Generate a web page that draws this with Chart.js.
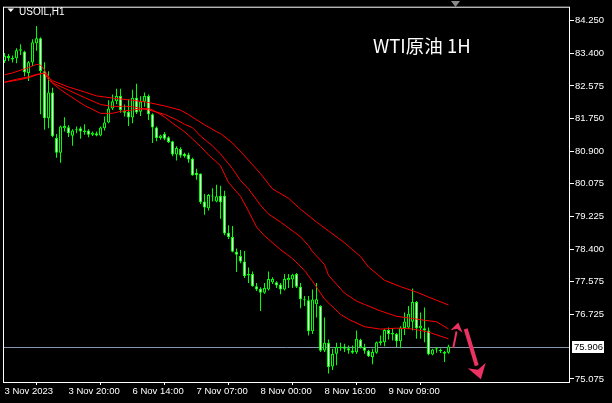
<!DOCTYPE html>
<html><head><meta charset="utf-8">
<script src="https://cdn.jsdelivr.net/npm/chart.js@4.4.1/dist/chart.umd.min.js"></script>
<style>html,body{margin:0;padding:0;background:#000;overflow:hidden}#wrap{width:612px;height:403px;position:relative;background:#000}</style>
</head><body><div id="wrap"><canvas id="c"></canvas></div>
<script>
const symbolTitle = 'USOIL,H1';
const chartNote = 'WTI原油 1H';
const xTickLabels = ['3 Nov 2023','3 Nov 20:00','6 Nov 14:00','7 Nov 07:00','8 Nov 00:00','8 Nov 16:00','9 Nov 09:00'];
const barsPerLabel = 16;
const yTickValues = [84.250,83.400,82.575,81.750,80.900,80.075,79.225,78.400,77.575,76.725,75.075];
const currentPrice = 75.906;
const shiftMarkerBar = 112.75;

const opens = [83.214,83.340,83.290,83.282,83.474,83.459,82.910,83.176,83.669,83.795,
82.953,81.748,82.405,81.242,80.863,81.495,81.520,81.300,81.470,81.495,
81.394,81.437,81.325,81.368,81.310,81.495,81.639,82.000,82.185,82.321,
81.932,81.917,81.765,82.271,81.917,82.170,82.321,81.849,81.512,81.242,
81.343,81.260,81.159,80.820,80.964,80.838,80.820,80.711,80.357,80.332,
79.617,79.447,79.768,79.617,79.768,79.768,78.815,78.707,78.335,78.226,
78.082,77.771,77.761,77.450,77.382,77.281,77.367,77.551,77.551,77.493,
77.367,77.602,77.620,77.761,77.433,77.114,77.089,76.300,76.988,76.945,
75.807,76.002,75.395,75.724,75.865,75.908,75.865,75.807,75.757,76.078,
75.896,75.795,75.638,75.749,75.992,76.017,76.331,76.255,76.229,76.042,
76.381,76.396,76.540,77.046,76.371,76.371,76.313,75.699,75.833,75.820,
75.764,75.744];
const highs = [83.416,83.391,83.353,83.542,83.643,83.474,83.214,83.770,84.111,83.820,
83.181,82.953,82.531,81.343,81.563,81.773,81.571,81.470,81.538,81.538,
81.596,81.470,81.411,81.411,81.538,81.791,82.210,82.354,82.506,82.506,
82.101,82.228,82.481,82.632,82.311,82.405,82.354,81.874,81.538,81.325,
81.394,81.285,81.174,81.032,81.007,80.863,80.863,80.736,80.458,80.332,
79.809,79.809,79.960,80.046,80.021,79.895,79.010,78.992,78.418,78.378,
78.353,77.931,77.829,77.534,77.425,77.534,77.829,77.678,77.577,77.534,
77.761,77.761,77.771,77.787,77.534,77.198,77.198,77.367,77.534,76.962,
76.649,76.085,75.850,76.002,76.002,75.977,75.934,75.934,76.313,76.103,
75.977,75.825,75.850,76.035,76.186,76.356,76.396,76.371,76.255,76.422,
76.775,76.945,77.392,77.071,76.775,76.902,76.396,75.850,75.891,75.858,
75.790,75.951];
const lows = [83.163,83.214,83.176,83.156,83.365,82.822,82.701,83.087,83.474,81.849,
81.452,81.495,81.260,80.736,80.610,81.411,81.267,81.047,81.368,81.224,
81.325,81.260,81.293,81.285,81.285,81.437,81.621,81.957,82.109,81.892,
81.791,81.553,81.621,81.856,81.806,82.043,81.705,81.116,81.159,81.199,
81.184,81.116,80.779,80.668,80.736,80.736,80.610,80.274,80.173,79.556,
79.278,79.389,79.617,79.599,79.177,78.757,78.656,78.317,77.812,78.039,
77.660,77.534,77.433,77.324,76.818,77.256,77.342,77.508,77.407,77.241,
77.342,77.407,77.407,77.407,76.887,76.945,76.186,76.229,76.649,75.764,
75.764,75.218,75.302,75.428,75.795,75.764,75.724,75.724,75.724,75.858,
75.724,75.638,75.453,75.724,75.934,75.916,76.085,76.060,75.891,75.865,
76.204,76.356,76.313,76.103,76.103,76.017,75.681,75.681,75.749,75.739,
75.511,75.724];
const closes = [83.340,83.290,83.252,83.492,83.517,82.928,83.181,83.694,83.795,82.961,
81.748,82.405,81.285,80.863,81.538,81.553,81.368,81.437,81.444,81.411,
81.437,81.325,81.386,81.310,81.512,81.639,82.000,82.185,82.321,81.957,
81.892,81.765,82.271,81.899,82.170,82.321,81.849,81.512,81.242,81.310,
81.224,81.141,80.820,80.989,80.795,80.779,80.693,80.289,80.289,79.599,
79.465,79.783,79.743,79.751,79.599,78.798,78.707,78.335,78.252,78.082,
77.703,77.721,77.450,77.367,77.281,77.407,77.635,77.635,77.468,77.367,
77.635,77.660,77.746,77.433,77.114,77.089,76.300,77.109,77.114,75.795,
76.002,75.385,75.714,75.896,75.891,75.850,75.807,75.744,76.103,75.891,
75.800,75.656,75.764,76.017,76.042,76.331,76.229,76.212,76.042,76.396,
76.548,76.743,77.046,76.371,76.439,76.313,75.706,75.833,75.865,75.782,
75.724,75.906];

const maFastBars = [0,2,5,7,8,9,10,12,14,16,20,24,27,29,32,36,37,40,42,45,47,49,51,54,56,59,61,63,65,67,69,72,75,77,80,84,86,90,94,98,102,106,111];
const maFastValues = [82.860,82.910,83.011,83.087,83.125,83.113,82.986,82.645,82.481,82.342,82.076,81.874,81.874,81.925,81.962,82.000,81.962,81.785,81.621,81.406,81.217,81.027,80.812,80.534,80.105,79.751,79.371,78.967,78.739,78.562,78.386,78.158,77.855,77.577,77.122,76.730,76.604,76.414,76.351,76.376,76.356,76.275,76.103];
const maMidBars = [0,3,6,8,10,11,12,16,20,24,27,30,32,36,40,43,45,47,49,52,54,57,59,61,64,66,69,71,74,76,77,80,81,83,85,88,90,94,98,102,105,108,111];
const maMidValues = [82.670,82.746,82.809,82.872,82.898,82.733,82.658,82.468,82.278,82.101,82.051,82.058,82.043,81.962,81.849,81.710,81.596,81.507,81.293,81.040,80.838,80.458,80.155,79.940,79.523,79.296,79.093,78.942,78.714,78.487,78.335,78.006,77.728,77.501,77.273,77.071,76.983,76.818,76.679,76.624,76.578,76.540,76.356];
const maSlowBars = [0,3,6,8,10,11,12,16,20,23,28,32,36,40,44,46,48,50,53,54,57,60,62,64,67,71,74,78,81,85,89,91,95,99,103,106,111];
const maSlowValues = [82.670,82.721,82.784,82.860,82.910,82.784,82.708,82.549,82.422,82.321,82.253,82.210,82.152,82.064,81.957,81.844,81.710,81.583,81.406,81.356,81.116,80.787,80.560,80.332,79.940,79.700,79.422,79.093,78.866,78.562,78.209,77.943,77.602,77.438,77.299,77.172,76.970];

// hand-drawn arrows, in (bar, price) terms
const arrowFromBar = [112.2, 115.3];
const arrowFromPrice = [75.876, 76.356];
const arrowToBar = [113.45, 119.1];
const arrowToPrice = [76.523, 75.066];
const arrowWidths = [2, 4];

const LIME = '#00ff00';
const axisFont = {family: '"Liberation Sans", Arial, sans-serif', size: 9.5};

const wickData = lows.map((l, i) => ({x: i, y: [l, highs[i]]}));
const bodyData = opens.map((o, i) => ({x: i, y: [o, closes[i]]}));
const bodyFill = opens.map((o, i) => closes[i] >= o ? '#000000' : '#ffffff');
const toPts = (bars, vals) => bars.map((b, k) => ({x: b, y: vals[k]}));

function drawArrow(ctx, x1, y1, x2, y2, w, color) {
  const ang = Math.atan2(y2 - y1, x2 - x1);
  const headL = w * 2.6 + 4, headW = w * 1.6 + 3;
  const bx = x2 - Math.cos(ang) * headL, by = y2 - Math.sin(ang) * headL;
  ctx.strokeStyle = color; ctx.fillStyle = color; ctx.lineWidth = w; ctx.lineCap = 'butt';
  ctx.beginPath(); ctx.moveTo(x1, y1); ctx.lineTo(bx, by); ctx.stroke();
  const nx = -Math.sin(ang), ny = Math.cos(ang);
  ctx.beginPath();
  ctx.moveTo(x2, y2);
  ctx.lineTo(bx + nx * headW, by + ny * headW);
  ctx.lineTo(x2 - Math.cos(ang) * headL * 0.7, y2 - Math.sin(ang) * headL * 0.7);
  ctx.lineTo(bx - nx * headW, by - ny * headW);
  ctx.closePath(); ctx.fill();
}

const decor = {
  id: 'decor',
  beforeDatasetsDraw(chart) {
    const {ctx, chartArea: a, scales: {y}} = chart;
    const py = Math.round(y.getPixelForValue(currentPrice)) + 0.5;
    ctx.save();
    ctx.strokeStyle = '#8296ae'; ctx.lineWidth = 1;
    ctx.beginPath(); ctx.moveTo(a.left, py); ctx.lineTo(a.right, py); ctx.stroke();
    ctx.restore();
  },
  afterDraw(chart) {
    const {ctx, chartArea: a, scales: {x, y}} = chart;
    ctx.save();
    // frame
    ctx.strokeStyle = '#ffffff'; ctx.lineWidth = 1;
    ctx.strokeRect(a.left + 0.5, a.top + 0.5, a.right - a.left - 1, a.bottom - a.top);
    // current price label
    const py = Math.round(y.getPixelForValue(currentPrice));
    ctx.fillStyle = '#ffffff';
    ctx.fillRect(a.right + 2, py - 6, 32, 12);
    ctx.fillStyle = '#000000';
    ctx.font = '9.5px "Liberation Sans", Arial, sans-serif';
    ctx.textBaseline = 'middle'; ctx.textAlign = 'left';
    ctx.fillText(currentPrice.toFixed(3), a.right + 4, py + 0.5);
    // symbol title
    ctx.fillStyle = '#ffffff';
    ctx.beginPath(); ctx.moveTo(7.5, 8.5); ctx.lineTo(14, 8.5); ctx.lineTo(10.75, 12); ctx.closePath(); ctx.fill();
    ctx.font = '10px "Liberation Sans", Arial, sans-serif';
    ctx.textBaseline = 'alphabetic';
    ctx.fillText(symbolTitle, 19, 14.5);
    // note
    ctx.font = '18.5px "Noto Sans CJK SC", sans-serif';
    ctx.fillText(chartNote, 373, 53);
    // chart shift marker
    const sx = x.getPixelForValue(shiftMarkerBar);
    ctx.fillStyle = '#8a8a8a';
    ctx.beginPath(); ctx.moveTo(sx - 4.5, 1); ctx.lineTo(sx + 4.5, 1); ctx.lineTo(sx, 7); ctx.closePath(); ctx.fill();
    // arrows
    for (let k = 0; k < arrowFromBar.length; k++) {
      drawArrow(ctx, x.getPixelForValue(arrowFromBar[k]), y.getPixelForValue(arrowFromPrice[k]),
        x.getPixelForValue(arrowToBar[k]), y.getPixelForValue(arrowToPrice[k]), arrowWidths[k], '#ec3262');
    }
    ctx.restore();
  }
};

new Chart(document.getElementById('c'), {
  type: 'bar',
  data: {
    datasets: [
      {type: 'line', data: toPts(maFastBars, maFastValues), borderColor: '#ff0000', borderWidth: 1, pointRadius: 0, tension: 0, order: 0},
      {type: 'line', data: toPts(maMidBars, maMidValues), borderColor: '#ff0000', borderWidth: 1, pointRadius: 0, tension: 0, order: 0},
      {type: 'line', data: toPts(maSlowBars, maSlowValues), borderColor: '#ff0000', borderWidth: 1, pointRadius: 0, tension: 0, order: 0},
      {type: 'bar', data: bodyData, backgroundColor: bodyFill, borderColor: LIME, borderWidth: 1, borderSkipped: false,
        barThickness: 3, grouped: false, inflateAmount: 0, order: 1},
      {type: 'bar', data: wickData, backgroundColor: LIME, borderWidth: 0, barThickness: 1, grouped: false, inflateAmount: 0, order: 2}
    ]
  },
  options: {
    responsive: true, maintainAspectRatio: false, animation: false, events: [],
    layout: {padding: {left: 3, top: 2, right: 0, bottom: 0}},
    plugins: {legend: {display: false}, tooltip: {enabled: false}},
    scales: {
      x: {
        type: 'linear', min: -0.375, max: 141.375, offset: false,
        grid: {drawOnChartArea: false, drawTicks: true, tickLength: 3, color: '#ffffff'},
        border: {display: false},
        afterBuildTicks: (s) => { s.ticks = xTickLabels.map((_, k) => ({value: k * barsPerLabel})); },
        afterFit: (s) => { s.height = 21; },
        ticks: {color: '#ffffff', font: axisFont, align: 'start', autoSkip: false, maxRotation: 0, padding: 1,
          callback: (v) => xTickLabels[Math.round(v / barsPerLabel)]}
      },
      y: {
        type: 'linear', position: 'right', min: 74.998, max: 84.604,
        grid: {drawOnChartArea: false, drawTicks: true, tickLength: 4, color: '#ffffff'},
        border: {display: false},
        afterBuildTicks: (s) => { s.ticks = yTickValues.map(v => ({value: v})); },
        afterFit: (s) => { s.width = 42; },
        ticks: {color: '#ffffff', font: axisFont, padding: 1, callback: (v) => Number(v).toFixed(3)}
      }
    }
  },
  plugins: [decor]
});
</script>
</body></html>
